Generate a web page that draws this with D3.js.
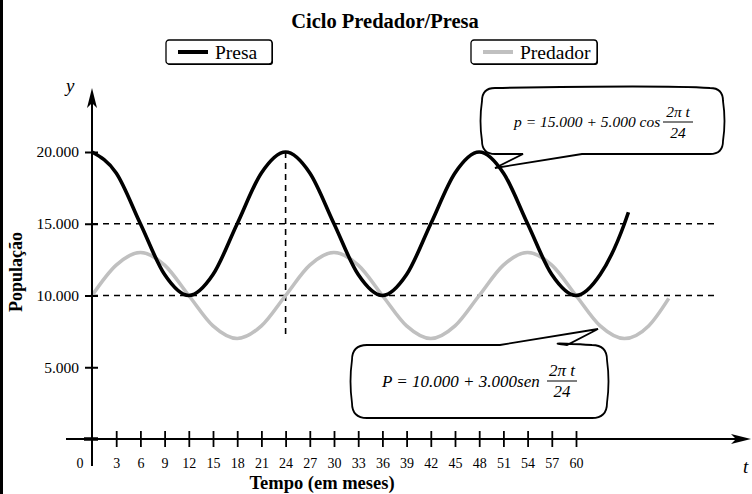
<!DOCTYPE html>
<html><head><meta charset="utf-8">
<script src="https://cdn.jsdelivr.net/npm/d3@7"></script>
<style>body{margin:0;background:#fff}svg{display:block}text{font-family:"Liberation Serif","Times New Roman",serif}</style>
</head><body><svg id="c" width="752" height="494"></svg>
<script>
// ---- data ----
const title = "Ciclo Predador/Presa";
const seriesNames = ["Presa", "Predador"];
const seriesColors = ["#000000", "#c0c0c0"];
const xTicks = [3,6,9,12,15,18,21,24,27,30,33,36,39,42,45,48,51,54,57,60];
const yTicks = [5000, 10000, 15000, 20000];
const yTickLabels = ["5.000", "10.000", "15.000", "20.000"];
const presaT = [0,3,6,9,12,15,18,21,24,27,30,33,36,39,42,45,48,51,54,57,60,63,66,66.5];
const presaV = [20000,18540,15000,11460,10000,11460,15000,18540,20000,18540,15000,11460,10000,11460,15000,18540,20000,18540,15000,11460,10000,11460,15000,15800];
const predT = [0,3,6,9,12,15,18,21,24,27,30,33,36,39,42,45,48,51,54,57,60,63,66,69,71.5];
const predV = [10000,12120,13000,12120,10000,7880,7000,7880,10000,12120,13000,12120,10000,7880,7000,7880,10000,12120,13000,12120,10000,7880,7000,7880,9800];
const refLines = [15000, 10000];
const refVertT = 24, refVertTop = 20000, refVertBottom = 7000;

const svg = d3.select("#c");
const x = d3.scaleLinear().domain([0, 60]).range([92, 576]);
const y = d3.scaleLinear().domain([0, 20000]).range([439, 152]);
const X0 = x(0), Y0 = y(0);

// left border
svg.append("rect").attr("x",0).attr("y",0).attr("width",3).attr("height",494).attr("fill","#000");

// title
svg.append("text").attr("x",385).attr("y",28).attr("text-anchor","middle")
  .attr("font-size",20.5).attr("font-weight","bold").text(title);

// legend
const legPos = [{x:166,w:106},{x:471,w:126}];
seriesNames.forEach((n,i)=>{
  const g = svg.append("g").attr("transform",`translate(${legPos[i].x},40)`);
  g.append("rect").attr("x",1).attr("y",1).attr("width",legPos[i].w).attr("height",24).attr("rx",3).attr("fill","#000");
  g.append("rect").attr("width",legPos[i].w).attr("height",24).attr("rx",3).attr("fill","#fff").attr("stroke","#000").attr("stroke-width",1.3);
  g.append("line").attr("x1",12).attr("x2",42).attr("y1",12).attr("y2",12).attr("stroke",seriesColors[i]).attr("stroke-width",4);
  g.append("text").attr("x",49).attr("y",18.5).attr("font-size",19.5).text(n);
});

// reference dashed lines
refLines.forEach(v=>{
  svg.append("line").attr("x1",X0).attr("x2",716).attr("y1",y(v)).attr("y2",y(v))
    .attr("stroke","#000").attr("stroke-width",1.6).attr("stroke-dasharray","6,5");
});
svg.append("line").attr("x1",x(refVertT)).attr("x2",x(refVertT)).attr("y1",y(refVertTop)).attr("y2",y(refVertBottom))
  .attr("stroke","#000").attr("stroke-width",1.6).attr("stroke-dasharray","6,5");

// series
const line = d3.line().curve(d3.curveMonotoneX).x(d=>x(d[0])).y(d=>y(d[1]));
svg.append("path").datum(predT.map((t,i)=>[t,predV[i]])).attr("d",line)
  .attr("fill","none").attr("stroke",seriesColors[1]).attr("stroke-width",3.6);
svg.append("path").datum(presaT.map((t,i)=>[t,presaV[i]])).attr("d",line)
  .attr("fill","none").attr("stroke",seriesColors[0]).attr("stroke-width",3.6);

// axes lines
svg.append("line").attr("x1",X0).attr("x2",X0).attr("y1",100).attr("y2",466).attr("stroke","#000").attr("stroke-width",2);
svg.append("path").attr("d",`M${X0},88 L${X0+5},108 L${X0},103 L${X0-5},108 Z`).attr("fill","#000");
svg.append("line").attr("x1",66).attr("x2",740).attr("y1",Y0).attr("y2",Y0).attr("stroke","#000").attr("stroke-width",2);
svg.append("path").attr("d",`M751,${Y0} L731,${Y0-5} L736,${Y0} L731,${Y0+5} Z`).attr("fill","#000");
svg.append("line").attr("x1",X0-8).attr("x2",X0+6).attr("y1",Y0).attr("y2",Y0).attr("stroke","#000").attr("stroke-width",3.5);

// x axis ticks + labels
const xAxis = d3.axisBottom(x).tickValues(xTicks).tickSizeInner(8).tickSizeOuter(0).tickPadding(11);
const gx = svg.append("g").attr("transform",`translate(0,${Y0})`).call(xAxis);
gx.select(".domain").remove();
gx.selectAll(".tick line").attr("y1",-8).attr("y2",8).attr("stroke","#000").attr("stroke-width",1.8);
gx.selectAll(".tick text").attr("font-family","Liberation Serif, serif").attr("font-size",14).attr("fill","#000");
svg.append("text").attr("x",80).attr("y",468).attr("text-anchor","middle").attr("font-size",14).text("0");

// y axis ticks + labels
const yAxis = d3.axisLeft(y).tickValues(yTicks).tickFormat((d,i)=>yTickLabels[i]).tickSizeInner(7).tickSizeOuter(0).tickPadding(6);
const gy = svg.append("g").attr("transform",`translate(${X0},0)`).call(yAxis);
gy.select(".domain").remove();
gy.selectAll(".tick line").attr("x1",-7).attr("x2",6).attr("stroke","#000").attr("stroke-width",2);
gy.selectAll(".tick text").attr("font-family","Liberation Serif, serif").attr("font-size",15.5).attr("fill","#000");

// axis titles
svg.append("text").attr("x",322).attr("y",489).attr("text-anchor","middle").attr("font-size",18.5).attr("font-weight","bold").text("Tempo (em meses)");
svg.append("text").attr("transform","translate(22,272) rotate(-90)").attr("text-anchor","middle").attr("font-size",18).attr("font-weight","bold").text("População");
svg.append("text").attr("x",66).attr("y",92).attr("font-size",19).attr("font-style","italic").text("y");
svg.append("text").attr("x",743).attr("y",473).attr("font-size",19).attr("font-style","italic").text("t");

// callouts
function bubble(x0,y0,x1,y1,r,tail){
  const b=3;
  let p=`M${x0+r},${y0}`;
  if(tail.side==="top") p+=` L${tail.a[0]},${tail.a[1]} L${tail.tip[0]},${tail.tip[1]} L${tail.b[0]},${tail.b[1]}`;
  p+=` Q${(x0+x1)/2+60},${y0-b} ${x1-r},${y0} Q${x1},${y0} ${x1},${y0+r}`;
  p+=` Q${x1+b},${(y0+y1)/2} ${x1},${y1-r} Q${x1},${y1} ${x1-r},${y1}`;
  if(tail.side==="bottom") p+=` L${tail.a[0]},${tail.a[1]} L${tail.tip[0]},${tail.tip[1]} L${tail.b[0]},${tail.b[1]}`;
  p+=` L${x0+r},${y1} Q${x0},${y1} ${x0},${y1-r} Q${x0-b},${(y0+y1)/2} ${x0},${y0+r} Q${x0},${y0} ${x0+r},${y0} Z`;
  svg.append("path").attr("d",p).attr("fill","#fff").attr("stroke","#000").attr("stroke-width",1.8).attr("stroke-linejoin","miter");
}
bubble(482,88,723,154,13,{side:"bottom",a:[582,154],tip:[495,168],b:[523,154]});
bubble(352,345,607,418,15,{side:"top",a:[500,345],tip:[598,329],b:[567,345]});

function formula(xs,base,txt,fx,fy,fs){
  svg.append("text").attr("x",xs).attr("y",base).attr("font-size",fs).attr("font-style","italic").text(txt);
  svg.append("text").attr("x",fx).attr("y",fy-5).attr("text-anchor","middle").attr("font-size",fs).attr("font-style","italic").text("2π t");
  svg.append("line").attr("x1",fx-15).attr("x2",fx+15).attr("y1",fy).attr("y2",fy).attr("stroke","#000").attr("stroke-width",1);
  svg.append("text").attr("x",fx).attr("y",fy+16).attr("text-anchor","middle").attr("font-size",fs).attr("font-style","italic").text("24");
}
formula(514,127,"p = 15.000 + 5.000 cos",678,122,15.5);
formula(382,387,"P = 10.000 + 3.000sen",562,381,17);
</script></body></html>
